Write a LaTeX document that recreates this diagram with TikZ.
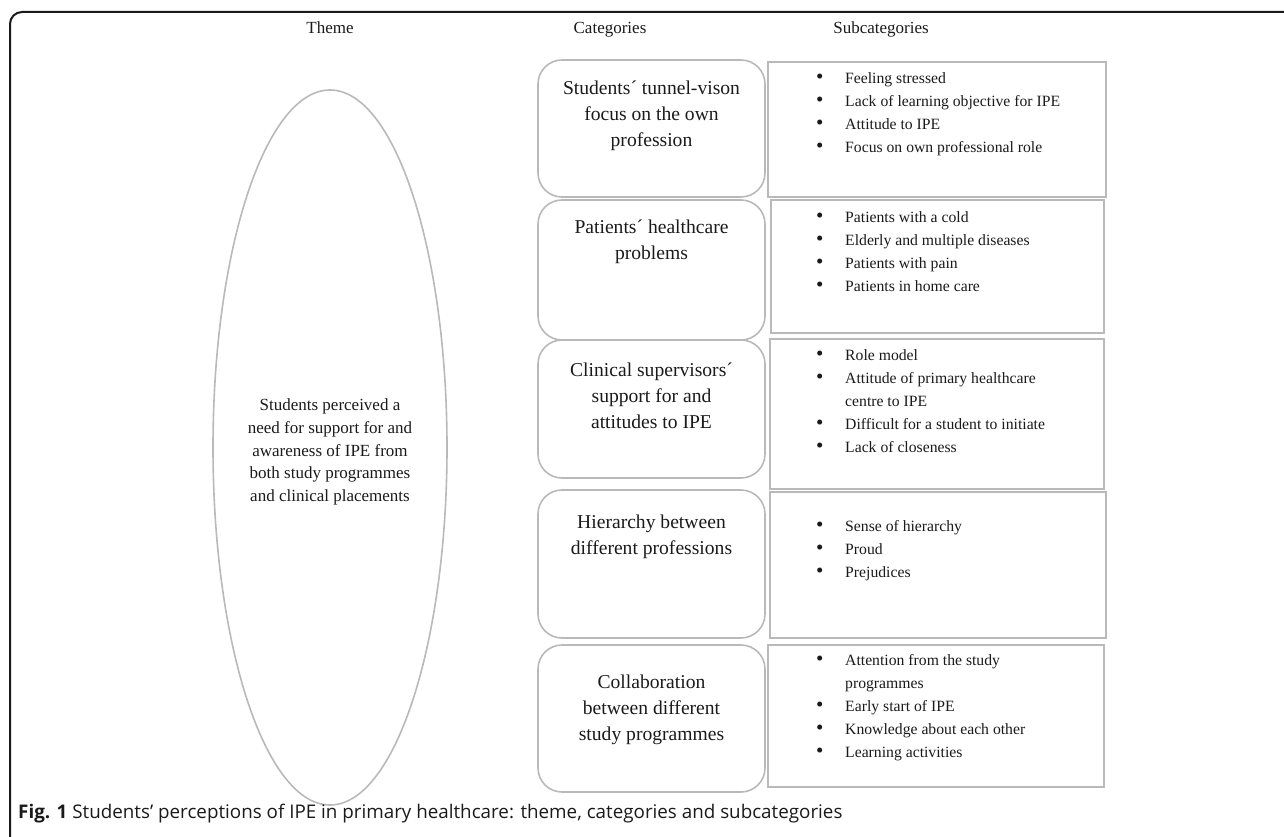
\documentclass[tikz,border=0pt]{standalone}
\usepackage{fontspec}
\setmainfont{Liberation Serif}
\newfontfamily\captionfont{Open Sans}
\usetikzlibrary{shapes.geometric}
\definecolor{boxgray}{RGB}{185,185,185}
\definecolor{inkblack}{RGB}{26,26,26}
\newcommand{\bul}{\makebox[28pt][l]{\hspace{-1pt}\raisebox{-0.5pt}{\fontsize{21}{23}\selectfont\textbullet}}}
\tikzset{%
	every category/.style={
		draw=boxgray,
		line width=1.6pt,
		rounded corners=24pt,
		inner sep=0pt,
		minimum width=227pt
	},
	every subcat/.style={
		draw=boxgray,
		line width=2.2pt,
		inner sep=0pt
	},
	category text/.style={
		align=center,
		text=inkblack,
		font=\fontsize{19.6}{26}\selectfont
	},
	subcat text/.style={
		anchor=north west,
		inner sep=0pt,
		text=inkblack,
		font=\fontsize{15.7}{23}\selectfont
	},
	header/.style={
		anchor=base,
		text=inkblack,
		font=\fontsize{17}{20}\selectfont
	},
}

\begin{document}
\begin{tikzpicture}[x=1pt, y=-1pt]
		
		\clip (0,0) rectangle (1284,837);
		\useasboundingbox (0,0) rectangle (1284,837);
		
		% outer frame
		\draw [inkblack, line width=2pt, rounded corners=12pt]
		(1400,848) -- (10,848) -- (10,12) -- (1400,12);
		
		% headers
		\foreach \l/\x in {Theme/330, Categories/610, Subcategories/881}
		\node [header] (head-\l) at (\x,34) {\l};
		
		% theme
		\node [ellipse, draw=boxgray, line width=1.6pt, minimum width=234pt,
		minimum height=715pt, inner sep=0pt] (theme) at (330,447.5) {};
		\node [category text, font=\fontsize{17}{22.7}\selectfont] (theme-text) at (330,452)
		{Students perceived a\\need for support for and\\awareness of IPE from\\both study programmes\\and clinical placements};
		
		% categories
		\foreach \t/\b [count=\i] in {60/197, 200/340, 340/478, 490/638, 645/792}
		\node [every category, minimum height={(\b-\t)*1pt}] (category-\i) at (651.5,{(\t+\b)/2}) {};
		
		\foreach \l/\y [count=\i] in {%
			{Students´ tunnel-vison\\focus on the own\\profession}/116,
			{Patients´ healthcare\\problems}/242,
			{Clinical supervisors´\\support for and\\attitudes to IPE}/396,
			{Hierarchy between\\different professions}/537,
			{Collaboration\\between different\\study programmes}/710}
		\node [category text] (category-text-\i) at (category-\i.center |- 0,\y) {\l};
		
		% subcategories
		\foreach \lft/\t/\rgt/\b [count=\i] in {768/62/1106/197, 771/200/1104/333,
			770/339/1104/489, 770/492/1106/638, 768/645/1104/787}
		\node [every subcat, minimum width={(\rgt-\lft)*1pt}, minimum height={(\b-\t)*1pt}]
		(subcat-\i) at ({(\lft+\rgt)/2},{(\t+\b)/2}) {};
		
		\node [subcat text] (subcat-text-1) at (817,67) {%
			\begin{tabular}{@{}l@{}l@{}}
				\bul & Feeling stressed\\
				\bul & Lack of learning objective for IPE\\
				\bul & Attitude to IPE\\
				\bul & Focus on own professional role
		\end{tabular}};
		\node [subcat text] (subcat-text-2) at (817,206) {%
			\begin{tabular}{@{}l@{}l@{}}
				\bul & Patients with a cold\\
				\bul & Elderly and multiple diseases\\
				\bul & Patients with pain\\
				\bul & Patients in home care
		\end{tabular}};
		\node [subcat text] (subcat-text-3) at (817,344) {%
			\begin{tabular}{@{}l@{}l@{}}
				\bul & Role model\\
				\bul & Attitude of primary healthcare\\
				& centre to IPE\\
				\bul & Difficult for a student to initiate\\
				\bul & Lack of closeness
		\end{tabular}};
		\node [subcat text] (subcat-text-4) at (817,515) {%
			\begin{tabular}{@{}l@{}l@{}}
				\bul & Sense of hierarchy\\
				\bul & Proud\\
				\bul & Prejudices
		\end{tabular}};
		\node [subcat text] (subcat-text-5) at (817,649) {%
			\begin{tabular}{@{}l@{}l@{}}
				\bul & Attention from the study\\
				& programmes\\
				\bul & Early start of IPE\\
				\bul & Knowledge about each other\\
				\bul & Learning activities
		\end{tabular}};
		
		% caption
		\node [anchor=base west, inner sep=0pt, text=inkblack,
		font=\captionfont\fontsize{18.8}{22}\selectfont] (caption) at (18,818)
		{\textbf{Fig. 1} Students’ perceptions of IPE in primary healthcare: theme, categories and subcategories};
		
		\end{tikzpicture}
\end{document}
